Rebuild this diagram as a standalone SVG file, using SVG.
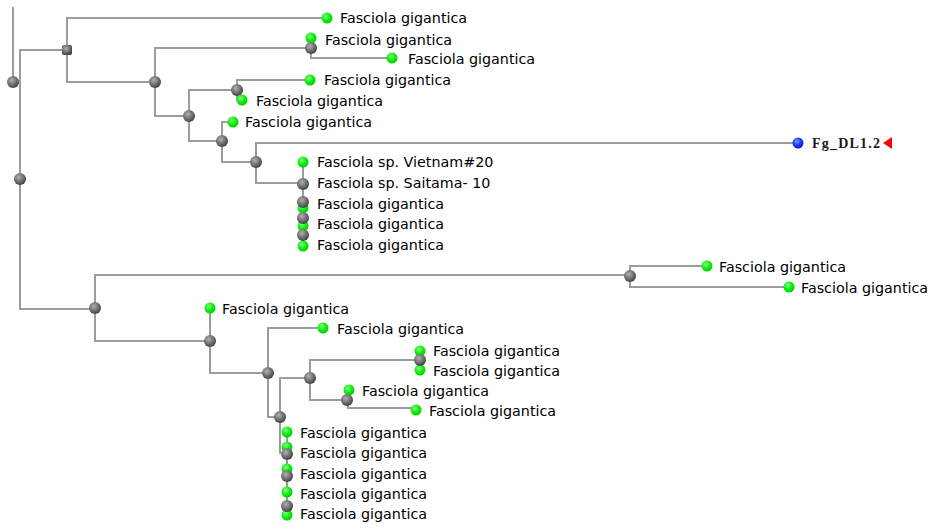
<svg xmlns="http://www.w3.org/2000/svg" width="937" height="530" viewBox="0 0 937 530">
<defs>
<radialGradient id="gGray" cx="0.4" cy="0.35" r="0.7">
<stop offset="0" stop-color="#b0b0b0"/><stop offset="0.6" stop-color="#6a6a6a"/><stop offset="1" stop-color="#3a3a3a"/>
</radialGradient>
<radialGradient id="gGreen" cx="0.4" cy="0.35" r="0.7">
<stop offset="0" stop-color="#90ff90"/><stop offset="0.5" stop-color="#10f010"/><stop offset="1" stop-color="#00c800"/>
</radialGradient>
<radialGradient id="gBlue" cx="0.4" cy="0.35" r="0.7">
<stop offset="0" stop-color="#8090ff"/><stop offset="0.5" stop-color="#2040ff"/><stop offset="1" stop-color="#0010c0"/>
</radialGradient>
</defs>
<style>
.e{fill:none;stroke:#9c9c9c;stroke-width:2}
.n{fill:url(#gGray)}
.l{fill:url(#gGreen)}
.t{font-family:"DejaVu Sans",sans-serif;font-size:14.3px;fill:#000}
</style>
<rect width="937" height="530" fill="#fff"/>
<g id="connectors">
<path class="e" d="M13 7V82"/>
<path class="e" d="M67 50H20V309H95"/>
<path class="e" d="M327 18H67V82H155"/>
<path class="e" d="M311 48H155V116H189"/>
<path class="e" d="M311 38V58H392"/>
<path class="e" d="M237 90H189V141H222"/>
<path class="e" d="M310 80H237V100H242"/>
<path class="e" d="M233 122H222V162H256"/>
<path class="e" d="M798 143H256V183H303"/>
<path class="e" d="M303 162V246"/>
<path class="e" d="M630 275H95V341H210"/>
<path class="e" d="M707 266H630V287H789"/>
<path class="e" d="M210 308V373H268"/>
<path class="e" d="M323 328H268V417H280"/>
<path class="e" d="M310 378H280V453H287"/>
<path class="e" d="M287 433V515"/>
<path class="e" d="M420 360H310V400H347"/>
<path class="e" d="M420 352V370"/>
<path class="e" d="M348 390V408H416"/>
</g>
<g id="n_outer"><circle class="n" cx="13" cy="82" r="6"/></g>
<g id="n_root"><circle class="n" cx="20" cy="179" r="6"/></g>
<g id="n_a"><rect class="n" x="62" y="45" width="10" height="10" rx="2"/></g>
<g id="leaf1"><circle class="l" cx="327" cy="18" r="5.5"/><text class="t" x="340" y="23">Fasciola gigantica</text></g>
<g id="n_b"><circle class="n" cx="155" cy="82" r="6"/></g>
<g id="leaf2"><circle class="l" cx="311" cy="38" r="5.5"/><text class="t" x="325" y="45">Fasciola gigantica</text></g>
<g id="n_c"><circle class="n" cx="311" cy="48" r="6"/></g>
<g id="leaf3"><circle class="l" cx="392" cy="58" r="5.5"/><text class="t" x="408" y="64">Fasciola gigantica</text></g>
<g id="n_d"><circle class="n" cx="189" cy="116" r="6"/></g>
<g id="n_e"><circle class="n" cx="237" cy="90" r="6"/></g>
<g id="leaf4"><circle class="l" cx="310" cy="80" r="5.5"/><text class="t" x="324" y="85">Fasciola gigantica</text></g>
<g id="leaf5"><circle class="l" cx="242" cy="100" r="5.5"/><text class="t" x="256" y="106">Fasciola gigantica</text></g>
<g id="n_f"><circle class="n" cx="222" cy="141" r="6"/></g>
<g id="leaf6"><circle class="l" cx="233" cy="122" r="5.5"/><text class="t" x="245" y="127">Fasciola gigantica</text></g>
<g id="n_g"><circle class="n" cx="256" cy="162" r="6"/></g>
<g id="leaf_fg"><circle cx="798" cy="143" r="5.5" fill="url(#gBlue)"/><text x="812" y="148" font-family="'Liberation Serif',serif" font-size="14" font-weight="bold" fill="#1a1a1a" textLength="68" lengthAdjust="spacing">Fg_DL1.2</text><path d="M883 143L892 137V149Z" fill="#ff0000"/></g>
<g id="stack1">
<circle class="l" cx="303" cy="162" r="5.5"/>
<circle class="l" cx="303" cy="208" r="5.5"/>
<circle class="l" cx="303" cy="226" r="5.5"/>
<circle class="l" cx="303" cy="246" r="5.5"/>
<circle class="n" cx="303" cy="184" r="6"/>
<circle class="n" cx="303" cy="202" r="6"/>
<circle class="n" cx="303" cy="218" r="6"/>
<circle class="n" cx="303" cy="235" r="6"/>
<text class="t" x="317" y="167">Fasciola sp. Vietnam#20</text>
<text class="t" x="317" y="188">Fasciola sp. Saitama- 10</text>
<text class="t" x="317" y="209">Fasciola gigantica</text>
<text class="t" x="317" y="229">Fasciola gigantica</text>
<text class="t" x="317" y="250">Fasciola gigantica</text>
</g>
<g id="n_h"><circle class="n" cx="95" cy="308" r="6"/></g>
<g id="n_i"><circle class="n" cx="630" cy="276" r="6"/></g>
<g id="leaf7"><circle class="l" cx="707" cy="266" r="5.5"/><text class="t" x="719" y="272">Fasciola gigantica</text></g>
<g id="leaf8"><circle class="l" cx="789" cy="287" r="5.5"/><text class="t" x="801" y="293">Fasciola gigantica</text></g>
<g id="leaf9"><circle class="l" cx="210" cy="308" r="5.5"/><text class="t" x="222" y="314">Fasciola gigantica</text></g>
<g id="n_j"><circle class="n" cx="210" cy="341" r="6"/></g>
<g id="n_k"><circle class="n" cx="268" cy="373" r="6"/></g>
<g id="leaf10"><circle class="l" cx="323" cy="328" r="5.5"/><text class="t" x="337" y="334">Fasciola gigantica</text></g>
<g id="n_l"><circle class="n" cx="280" cy="417" r="6"/></g>
<g id="n_m"><circle class="n" cx="310" cy="378" r="6"/></g>
<g id="leaf11"><circle class="l" cx="420" cy="351" r="5.5"/><text class="t" x="433" y="356">Fasciola gigantica</text></g>
<g id="leaf12"><circle class="l" cx="420" cy="370" r="5.5"/><text class="t" x="433" y="376">Fasciola gigantica</text></g>
<g id="n_n"><circle class="n" cx="420" cy="360" r="6"/></g>
<g id="leaf13"><circle class="l" cx="349" cy="390" r="5.5"/><text class="t" x="362" y="396">Fasciola gigantica</text></g>
<g id="n_o"><circle class="n" cx="347" cy="400" r="6"/></g>
<g id="leaf14"><circle class="l" cx="416" cy="410" r="5.5"/><text class="t" x="429" y="416">Fasciola gigantica</text></g>
<g id="stack2">
<circle class="l" cx="287" cy="432" r="5.5"/>
<circle class="l" cx="287" cy="447" r="5.5"/>
<circle class="l" cx="287" cy="469" r="5.5"/>
<circle class="l" cx="287" cy="492" r="5.5"/>
<circle class="l" cx="287" cy="515" r="5.5"/>
<circle class="n" cx="287" cy="454" r="6"/>
<circle class="n" cx="287" cy="476" r="6"/>
<circle class="n" cx="287" cy="506" r="6"/>
<text class="t" x="300" y="438">Fasciola gigantica</text>
<text class="t" x="300" y="458">Fasciola gigantica</text>
<text class="t" x="300" y="479">Fasciola gigantica</text>
<text class="t" x="300" y="499">Fasciola gigantica</text>
<text class="t" x="300" y="519">Fasciola gigantica</text>
</g>
</svg>
